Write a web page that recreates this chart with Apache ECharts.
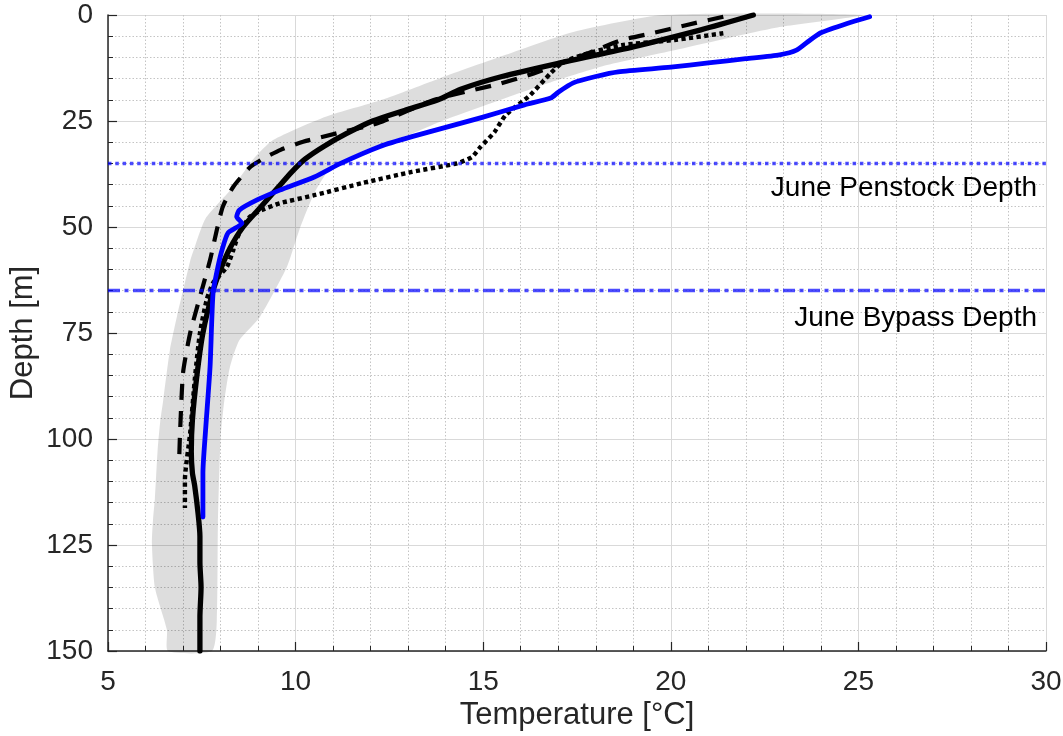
<!DOCTYPE html>
<html>
<head>
<meta charset="utf-8">
<script src="https://cdn.jsdelivr.net/npm/echarts@6/dist/echarts.min.js"></script>
<style>
html,body{margin:0;padding:0;background:#fff;}
#chart{width:1063px;height:736px;}
</style>
</head>
<body>
<div id="chart"></div>
<script>
// ---- data (temperature °C vs depth m) ----
const meanDepth = [0, 3.5, 7.5, 11, 14.5, 17.5, 20, 22.5, 25, 28, 31, 34, 37, 41, 45, 50, 55, 60, 65, 75, 85, 95.5, 103, 108, 111, 117.5, 123, 129, 135, 142, 150];
const meanTemp  = [22.2, 20.8, 19.0, 17.2, 15.5, 14.4, 13.8, 12.9, 12.05, 11.35, 10.75, 10.25, 9.9, 9.5, 9.1, 8.6, 8.25, 8.0, 7.8, 7.53, 7.37, 7.25, 7.22, 7.25, 7.31, 7.4, 7.45, 7.45, 7.48, 7.45, 7.45];

const blueDepth = [0.4, 2, 4.2, 6, 8.3, 9.4, 10.3, 11.3, 12.3, 13.4, 14.5, 16, 18.2, 19.6, 21.2, 24.2, 28.7, 31, 35, 38.2, 41.3, 43.5, 46, 47.6, 49.1, 51.4, 55.4, 59.4, 65.6, 83, 98, 108, 118.4];
const blueTemp  = [25.3, 24.7, 24.0, 23.7, 23.35, 22.9, 22.0, 21.0, 20.0, 18.6, 18.0, 17.4, 17.0, 16.8, 16.1, 14.95, 13.1, 12.25, 11.2, 10.5, 9.58, 9.0, 8.5, 8.43, 8.57, 8.2, 8.04, 7.93, 7.8, 7.72, 7.6, 7.53, 7.53];

const dashDepth = [0.4, 2.4, 4.3, 5.9, 9, 12, 14.2, 16.3, 20, 25.5, 27.9, 29.9, 31.8, 33.4, 35.8, 40.5, 45.2, 50.7, 57.8, 66.5, 75, 84.4, 98.6, 104];
const dashTemp  = [21.4, 20.4, 19.5, 18.7, 17.8, 16.9, 16.2, 15.4, 13.7, 12.2, 11.1, 10.2, 9.6, 9.24, 8.8, 8.34, 8.06, 7.9, 7.72, 7.45, 7.19, 7.0, 6.92, 6.9];

const dotDepth = [4.3, 5.9, 7.1, 9.4, 11.3, 13.7, 18.9, 23.6, 27.6, 31.4, 33.5, 35, 37, 39.6, 42.5, 44.4, 46, 47.6, 51.4, 55.4, 59.4, 63.2, 67.2, 75, 85.3, 98.6, 109.7, 116.3];
const dotTemp  = [21.4, 20.1, 18.7, 17.65, 17.1, 16.8, 16.25, 15.6, 15.3, 14.9, 14.7, 14.3, 13.1, 11.8, 10.5, 9.58, 9.1, 8.78, 8.5, 8.34, 8.17, 7.8, 7.63, 7.45, 7.32, 7.19, 7.05, 7.05];

const bandMinDepth = [0, 4, 9.4, 14.9, 20, 24, 29.5, 34, 40.5, 48, 55, 58, 71, 79, 91, 96, 103, 114, 119, 124.5, 135, 145, 150];
const bandMinTemp  = [19.8, 17.4, 15.6, 13.85, 12.3, 10.8, 9.4, 8.87, 8.34, 7.6, 7.3, 7.19, 6.84, 6.65, 6.47, 6.39, 6.32, 6.25, 6.2, 6.17, 6.25, 6.57, 6.6];
const bandMaxDepth = [0, 3, 8.3, 11.8, 15.3, 19.6, 25.2, 28, 32, 36.5, 42, 50.7, 59.4, 71.2, 76.7, 83, 91, 100, 120, 143, 150];
const bandMaxTemp  = [25.1, 22.8, 20.1, 18.3, 17.0, 15.6, 13.85, 13.1, 11.8, 10.9, 10.5, 10.1, 9.77, 9.05, 8.5, 8.25, 8.1, 8.0, 7.93, 7.9, 7.77];

const penstockDepth = 35;
const bypassDepth = 65;
const refLineTemps = [5, 30];
const refLabels = ['June Penstock Depth', 'June Bypass Depth'];

const xTicks = {min: 5, max: 30, interval: 5};
const yTicks = {min: 0, max: 150, interval: 25};

// ---- build ----
const pairs = (t, d) => t.map((v, i) => [v, d[i]]);
const axisColor = '#262626';
const textFont = "'Liberation Sans', Arial, sans-serif";

const chart = echarts.init(document.getElementById('chart'), null, {renderer: 'canvas'});

const option = {
  animation: false,
  backgroundColor: '#ffffff',
  grid: {left: 108, right: 17, top: 15, bottom: 85, containLabel: false, outerBoundsMode: 'none'},
  xAxis: {
    type: 'value', min: xTicks.min, max: xTicks.max, interval: xTicks.interval,
    name: 'Temperature [°C]', nameLocation: 'middle', nameGap: 49, nameMoveOverlap: false,
    nameTextStyle: {fontSize: 31, color: axisColor, fontFamily: textFont},
    axisLine: {show: true, onZero: false, lineStyle: {color: axisColor, width: 1.5}},
    axisTick: {show: true, inside: true, length: 9, lineStyle: {color: axisColor, width: 1.2}},
    minorTick: {show: true, splitNumber: 5, length: 5, lineStyle: {color: axisColor, width: 1}},
    axisLabel: {fontSize: 28, color: axisColor, margin: 17, fontFamily: textFont},
    splitLine: {show: true, lineStyle: {color: '#d9d9d9', width: 1}},
    minorSplitLine: {show: true, lineStyle: {color: '#c4c4c4', width: 1, type: [1.5, 2]}}
  },
  yAxis: {
    type: 'value', min: yTicks.min, max: yTicks.max, interval: yTicks.interval, inverse: true,
    name: 'Depth [m]', nameLocation: 'middle', nameGap: 69, nameRotate: 90, nameMoveOverlap: false,
    nameTextStyle: {fontSize: 31, color: axisColor, fontFamily: textFont},
    axisLine: {show: true, onZero: false, lineStyle: {color: axisColor, width: 1.5}},
    axisTick: {show: true, inside: true, length: 9, lineStyle: {color: axisColor, width: 1.2}},
    minorTick: {show: true, splitNumber: 5, length: 5, lineStyle: {color: axisColor, width: 1}},
    axisLabel: {fontSize: 28, color: axisColor, margin: 15, fontFamily: textFont},
    splitLine: {show: true, lineStyle: {color: '#d9d9d9', width: 1}},
    minorSplitLine: {show: true, lineStyle: {color: '#c4c4c4', width: 1, type: [1.5, 2]}}
  },
  series: [
    {
      type: 'custom', name: 'band', z: 1, silent: true,
      data: [[bandMinTemp[0], bandMinDepth[0]]],
      renderItem: function (params, api) {
        const pts = [];
        for (let i = 0; i < bandMinTemp.length; i++) pts.push(api.coord([bandMinTemp[i], bandMinDepth[i]]));
        for (let i = bandMaxTemp.length - 1; i >= 0; i--) pts.push(api.coord([bandMaxTemp[i], bandMaxDepth[i]]));
        return {type: 'polygon', shape: {points: pts, smooth: 0.2}, style: {fill: 'rgba(0,0,0,0.135)'}};
      }
    },
    {
      type: 'line', name: 'mean', z: 3, data: pairs(meanTemp, meanDepth), showSymbol: false, smooth: 0.25,
      lineStyle: {color: '#000000', width: 5.3, join: 'round', cap: 'round'}
    },
    {
      type: 'line', name: 'dashed', z: 3, data: pairs(dashTemp, dashDepth), showSymbol: false, smooth: 0.2,
      lineStyle: {color: '#000000', width: 4.2, type: [16, 11], join: 'round'}
    },
    {
      type: 'line', name: 'dotted', z: 3, data: pairs(dotTemp, dotDepth), showSymbol: false, smooth: 0.2,
      lineStyle: {color: '#000000', width: 4.4, type: [4.2, 3.4], join: 'round'}
    },
    {
      type: 'line', name: 'blue', z: 4, data: pairs(blueTemp, blueDepth), showSymbol: false, smooth: 0.2,
      lineStyle: {color: '#0000ff', width: 4.8, join: 'round', cap: 'round'}
    },
    {
      type: 'line', name: 'penstock', z: 5, data: refLineTemps.map(t => [t, penstockDepth]), showSymbol: false,
      lineStyle: {color: 'rgba(0,0,255,0.7)', width: 3.5, type: [3.5, 3.8]}
    },
    {
      type: 'line', name: 'bypass', z: 5, data: refLineTemps.map(t => [t, bypassDepth]), showSymbol: false,
      lineStyle: {color: 'rgba(0,0,255,0.7)', width: 3.5, type: [12, 4.5, 4, 4.5]}
    }
  ]
};
chart.setOption(option);

const p1 = chart.convertToPixel({gridIndex: 0}, [refLineTemps[1], penstockDepth]);
const p2 = chart.convertToPixel({gridIndex: 0}, [refLineTemps[1], bypassDepth]);
chart.setOption({
  graphic: [
    {type: 'text', x: p1[0] - 9, y: p1[1] + 25, z: 10,
     style: {text: refLabels[0], font: "28px 'Liberation Sans', Arial, sans-serif", fill: '#000', align: 'right', verticalAlign: 'middle'}},
    {type: 'text', x: p2[0] - 9, y: p2[1] + 28, z: 10,
     style: {text: refLabels[1], font: "28px 'Liberation Sans', Arial, sans-serif", fill: '#000', align: 'right', verticalAlign: 'middle'}}
  ]
});
</script>
</body>
</html>
